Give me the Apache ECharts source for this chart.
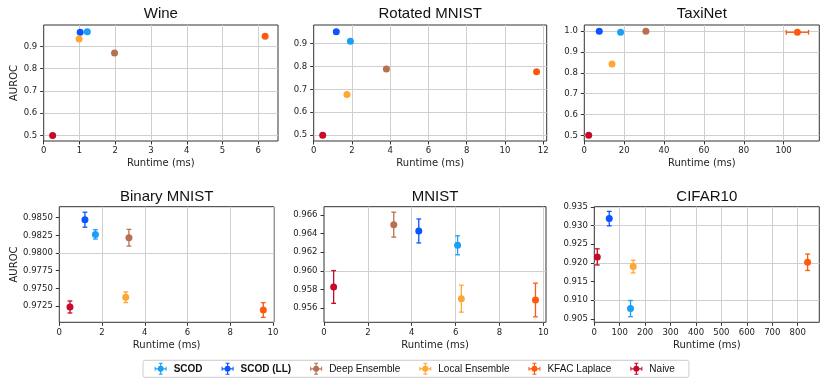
<!DOCTYPE html>
<html>
<head>
<meta charset="utf-8">
<script src="https://cdn.jsdelivr.net/npm/echarts@6/dist/echarts.min.js"></script>
<style>
html, body { margin: 0; padding: 0; background: #fff; }
#chart { width: 830px; height: 378px; }
</style>
</head>
<body>
<div id="chart"></div>
<script>
const methods = ['SCOD', 'SCOD (LL)', 'Deep Ensemble', 'Local Ensemble', 'KFAC Laplace', 'Naive']

// runtime (ms) and AUROC for each dataset, in the order of methods
const wineRuntime = [1.22, 1.02, 1.98, 0.99, 6.19, 0.25]
const wineAuroc = [0.966, 0.963, 0.870, 0.933, 0.945, 0.500]

const rotatedRuntime = [1.92, 1.18, 3.80, 1.74, 11.65, 0.47]
const rotatedAuroc = [0.909, 0.951, 0.788, 0.677, 0.777, 0.500]

const taxiRuntime = [18.2, 7.5, 30.9, 13.9, 106.9, 2.2]
const taxiRuntimeErr = [0, 0, 0, 0, 5.6, 0]
const taxiAuroc = [0.995, 1.0, 1.0, 0.843, 0.995, 0.500]

const binaryRuntime = [1.69, 1.20, 3.26, 3.11, 9.55, 0.50]
const binaryAuroc = [0.98264, 0.98472, 0.98217, 0.97373, 0.97193, 0.97236]
const binaryAurocErr = [0.00066, 0.00106, 0.00118, 0.00075, 0.00104, 0.00085]

const mnistRuntime = [6.09, 4.32, 3.18, 6.26, 9.64, 0.44]
const mnistAuroc = [0.96274, 0.96428, 0.96496, 0.95700, 0.95686, 0.95826]
const mnistAurocErr = [0.00102, 0.00129, 0.00134, 0.00145, 0.00181, 0.00176]

// no Deep Ensemble on CIFAR10
const cifarRuntime = [142.5, 58.8, null, 153, 839, 11.8]
const cifarAuroc = [0.90779, 0.93186, null, 0.91902, 0.92018, 0.92162]
const cifarAurocErr = [0.00216, 0.00193, null, 0.0017, 0.0022, 0.00216]

// tick labels
const wineXTicks = [0, 1, 2, 3, 4, 5, 6]
const wineYTicks = [0.5, 0.6, 0.7, 0.8, 0.9]
const rotatedXTicks = [0, 2, 4, 6, 8, 10, 12]
const rotatedYTicks = [0.5, 0.6, 0.7, 0.8, 0.9]
const taxiXTicks = [0, 20, 40, 60, 80, 100]
const taxiYTicks = [0.5, 0.6, 0.7, 0.8, 0.9, 1.0]
const binaryXTicks = [0, 2, 4, 6, 8, 10]
const binaryYTicks = [0.9725, 0.975, 0.9775, 0.98, 0.9825, 0.985]
const mnistXTicks = [0, 2, 4, 6, 8, 10]
const mnistYTicks = [0.956, 0.958, 0.96, 0.962, 0.964, 0.966]
const cifarXTicks = [0, 100, 200, 300, 400, 500, 600, 700, 800]
const cifarYTicks = [0.905, 0.91, 0.915, 0.92, 0.925, 0.93, 0.935]

const colors = ['#1a9ff5', '#0a55ff', '#b8704e', '#ffa733', '#ff5a0f', '#c80a28']

const panels = [
  { title: 'Wine', x: wineRuntime, y: wineAuroc, xTicks: wineXTicks, yTicks: wineYTicks, dec: 1,
    xMax: 6.55, yMin: 0.475, yMax: 0.996, box: [43.7, 25, 234.3, 116], yName: true },
  { title: 'Rotated MNIST', x: rotatedRuntime, y: rotatedAuroc, xTicks: rotatedXTicks, yTicks: rotatedYTicks, dec: 1,
    xMax: 12.18, yMin: 0.475, yMax: 0.98, box: [313.7, 25, 233, 116] },
  { title: 'TaxiNet', x: taxiRuntime, y: taxiAuroc, xErr: taxiRuntimeErr, xTicks: taxiXTicks, yTicks: taxiYTicks, dec: 1,
    xMax: 117.9, yMin: 0.4727, yMax: 1.03, box: [584.3, 25, 235, 116] },
  { title: 'Binary MNIST', x: binaryRuntime, y: binaryAuroc, yErr: binaryAurocErr, xTicks: binaryXTicks, yTicks: binaryYTicks, dec: 4,
    xMax: 10.05, yMin: 0.97019, yMax: 0.98656, box: [59.3, 206.7, 214.7, 115.6], yName: true },
  { title: 'MNIST', x: mnistRuntime, y: mnistAuroc, yErr: mnistAurocErr, xTicks: mnistXTicks, yTicks: mnistYTicks, dec: 3,
    xMax: 10.12, yMin: 0.95446, yMax: 0.96689, box: [324, 206.7, 222, 115.6] },
  { title: 'CIFAR10', x: cifarRuntime, y: cifarAuroc, yErr: cifarAurocErr, xTicks: cifarXTicks, yTicks: cifarYTicks, dec: 3,
    xMax: 885, yMin: 0.90411, yMax: 0.93505, box: [594.3, 206.7, 225, 115.6] }
]

const tickFont = { fontFamily: 'DejaVu Sans', fontSize: 8.5, color: '#222' }

// error bars, drawn through the axes
function renderErrorBar(params, api) {
  const x = api.value(0)
  const y = api.value(1)
  const ex = api.value(2)
  const ey = api.value(3)
  const style = { stroke: api.visual('color'), lineWidth: 1.3 }
  const cap = 2.4
  const children = []
  if (ey > 0) {
    const a = api.coord([x, y + ey])
    const b = api.coord([x, y - ey])
    children.push({ type: 'line', shape: { x1: a[0], y1: a[1], x2: b[0], y2: b[1] }, style })
    children.push({ type: 'line', shape: { x1: a[0] - cap, y1: a[1], x2: a[0] + cap, y2: a[1] }, style })
    children.push({ type: 'line', shape: { x1: b[0] - cap, y1: b[1], x2: b[0] + cap, y2: b[1] }, style })
  }
  if (ex > 0) {
    const a = api.coord([x - ex, y])
    const b = api.coord([x + ex, y])
    children.push({ type: 'line', shape: { x1: a[0], y1: a[1], x2: b[0], y2: b[1] }, style })
    children.push({ type: 'line', shape: { x1: a[0], y1: a[1] - cap, x2: a[0], y2: a[1] + cap }, style })
    children.push({ type: 'line', shape: { x1: b[0], y1: b[1] - cap, x2: b[0], y2: b[1] + cap }, style })
  }
  return { type: 'group', children }
}

const titles = []
const grids = []
const xAxes = []
const yAxes = []
const series = []

panels.forEach((p, i) => {
  const [left, top, width, height] = p.box
  titles.push({
    text: p.title,
    left: left + width / 2,
    top: top < 100 ? 6.5 : 189,
    textAlign: 'center',
    padding: 0,
    textStyle: { fontFamily: 'Liberation Sans', fontSize: 15, fontWeight: 'normal', color: '#111' }
  })
  grids.push({
    left, top, width, height,
    show: true,
    borderColor: '#333',
    borderWidth: 1,
    backgroundColor: '#fff'
  })
  xAxes.push({
    type: 'value',
    gridIndex: i,
    min: 0,
    max: p.xMax,
    name: 'Runtime (ms)',
    nameLocation: 'middle',
    nameGap: top < 100 ? 17 : 18.5,
    nameTextStyle: { fontFamily: 'DejaVu Sans', fontSize: 10, color: '#222' },
    axisLine: { show: false },
    splitLine: { show: false },
    axisTick: { show: true, length: 3.5, customValues: p.xTicks, lineStyle: { color: '#333' } },
    axisLabel: { ...tickFont, margin: 5.5, customValues: p.xTicks, formatter: v => String(v) }
  })
  yAxes.push({
    type: 'value',
    gridIndex: i,
    min: p.yMin,
    max: p.yMax,
    name: p.yName ? 'AUROC' : '',
    nameLocation: 'middle',
    nameGap: i === 0 ? 23 : 39,
    nameTextStyle: { fontFamily: 'DejaVu Sans', fontSize: 10, color: '#222' },
    axisLine: { show: false },
    splitLine: { show: false },
    axisTick: { show: true, length: 3.5, customValues: p.yTicks, lineStyle: { color: '#333' } },
    axisLabel: { ...tickFont, margin: 6.5, customValues: p.yTicks, formatter: v => v.toFixed(p.dec) }
  })

  // grid lines, kept under the marks
  const gx = p.xTicks.filter(v => v > 0 && v < p.xMax).map(v => ({ xAxis: v }))
  const gy = p.yTicks.filter(v => v > p.yMin && v < p.yMax).map(v => ({ yAxis: v }))
  series.push({
    type: 'scatter',
    xAxisIndex: i,
    yAxisIndex: i,
    data: [],
    silent: true,
    z: 1,
    markLine: {
      z: 1,
      silent: true,
      symbol: 'none',
      animation: false,
      label: { show: false },
      lineStyle: { color: '#cfcfcf', width: 1, type: 'solid' },
      emphasis: { disabled: true },
      data: gx.concat(gy)
    }
  })

  methods.forEach((name, k) => {
    if (p.x[k] == null) return
    const ex = p.xErr ? p.xErr[k] : 0
    const ey = p.yErr ? p.yErr[k] : 0
    if (ex > 0 || ey > 0) {
      series.push({
        name,
        type: 'custom',
        xAxisIndex: i,
        yAxisIndex: i,
        z: 3,
        silent: true,
        itemStyle: { color: colors[k] },
        renderItem: renderErrorBar,
        encode: { x: 0, y: 1 },
        data: [[p.x[k], p.y[k], ex, ey]]
      })
    }
    series.push({
      name,
      type: 'scatter',
      xAxisIndex: i,
      yAxisIndex: i,
      z: 4,
      symbolSize: 7,
      itemStyle: { color: colors[k], opacity: 1 },
      data: [[p.x[k], p.y[k]]]
    })
  })
})

const legendIcon = 'path://M5.4,0H6.6V12H5.4Z M0,5.4H12V6.6H0Z M4,0H8V1H4Z M4,11H8V12H4Z M0,4H1V8H0Z M11,4H12V8H11Z M3,6A3,3 0 1,1 9,6A3,3 0 1,1 3,6Z'

const option = {
  animation: false,
  backgroundColor: '#fff',
  title: titles,
  grid: grids,
  xAxis: xAxes,
  yAxis: yAxes,
  legend: {
    left: 143,
    top: 360.3,
    itemWidth: 12,
    itemHeight: 12,
    itemGap: 19,
    padding: [2.5, 14, 2.5, 11.7],
    borderColor: '#cccccc',
    borderWidth: 1,
    borderRadius: 2,
    icon: legendIcon,
    textStyle: { fontFamily: 'Liberation Sans', fontSize: 10, color: '#111', padding: [0, 0, 0, 2] },
    data: methods.map((name, k) => ({
      name,
      textStyle: k < 2 ? { fontWeight: 'bold' } : {}
    }))
  },
  series
}

const myChart = echarts.init(document.getElementById('chart'))
myChart.setOption(option)
</script>
</body>
</html>
